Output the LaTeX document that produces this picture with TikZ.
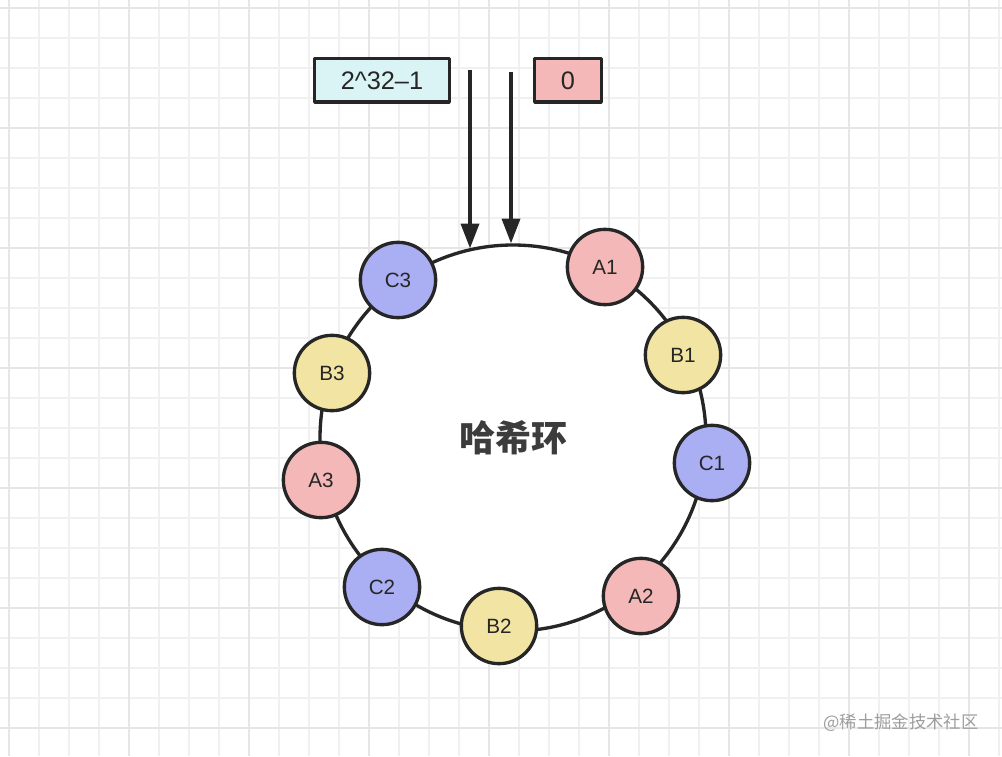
\documentclass[tikz,border=0pt]{standalone}
\usepackage{fontspec}
\setmainfont{Liberation Sans}
\newfontfamily\cjkfont{Noto Sans CJK SC}
\usetikzlibrary{arrows.meta}

\definecolor{luoi}{HTML}{F0F0F0}
\definecolor{luoidam}{HTML}{E6E6E6}
\definecolor{vien}{HTML}{262626}
\definecolor{hongnhat}{HTML}{F4B8B8}
\definecolor{vangnhat}{HTML}{F2E4A2}
\definecolor{timnhat}{HTML}{AAAEF2}
\definecolor{xanhnhat}{HTML}{DAF4F5}
\definecolor{chumo}{HTML}{9E9E9E}

\tikzset{
  nut/.style={circle, draw=vien, line width=2.5pt, minimum size=56.5pt, inner sep=0pt,
    text=vien, font=\fontsize{15.5}{18}\selectfont},
  hop/.style={rectangle, draw=vien, line width=2.6pt, minimum height=32.6pt, inner sep=0pt,
    text=vien, font=\fontsize{19}{22}\selectfont},
  muiten/.style={draw=vien, line width=2.6pt, -{Triangle[length=18.5pt, width=13.5pt]}}
}

\begin{document}
\begin{tikzpicture}[x=0.75pt, y=-0.75pt, line join=round]
  \useasboundingbox (0,0) rectangle (1002,756);
  \fill[white] (0,0) rectangle (1002,756);

  % --- Lưới nền ---
  \foreach \gx in {9,39,...,999} \draw[luoi, line width=1.2pt] (\gx,0) -- (\gx,756);
  \foreach \gy in {8,38,...,754} \draw[luoi, line width=1.2pt] (0,\gy) -- (1002,\gy);
  \foreach \gx in {9,129,...,999} \draw[luoidam, line width=1.3pt] (\gx,0) -- (\gx,756);
  \foreach \gy in {8,128,...,754} \draw[luoidam, line width=1.3pt] (0,\gy) -- (1002,\gy);

  % --- Vòng băm ---
  \node[circle, draw=vien, fill=white, line width=2.5pt, minimum size=289.5pt, inner sep=0pt,
    text=vien!90!white, font=\cjkfont\bfseries\fontsize{27}{30}\selectfont] (ring) at (513,438) {哈希环};

  % --- Các nút trên vòng ---
  \node[nut, fill=hongnhat] (A1) at (605,267) {A1};
  \node[nut, fill=vangnhat] (B1) at (683,355) {B1};
  \node[nut, fill=timnhat] (C1) at (712,463) {C1};
  \node[nut, fill=hongnhat] (A2) at (641,596) {A2};
  \node[nut, fill=vangnhat] (B2) at (499,626) {B2};
  \node[nut, fill=timnhat] (C2) at (382,587) {C2};
  \node[nut, fill=hongnhat] (A3) at (321,480) {A3};
  \node[nut, fill=vangnhat] (B3) at (332,373) {B3};
  \node[nut, fill=timnhat] (C3) at (398,280) {C3};

  % --- Hai hộp giá trị ---
  \node[hop, fill=xanhnhat, minimum width=101pt] (maxval) at (382,80.5) {2\textasciicircum32–1};
  \node[hop, fill=hongnhat, minimum width=50pt] (zeroval) at (568,80.5) {0};

  % --- Mũi tên ---
  \coordinate (dau1) at (470,70);
  \coordinate (dau2) at (511,72);
  \draw[muiten] (dau1) -- (dau1 |- ring.103);
  \draw[muiten] (dau2) -- (dau2 |- ring.90.6);

  % --- Chữ mờ ---
  \node[text=chumo, font=\cjkfont\fontsize{13}{15}\selectfont] (nguon) at (901,723) {@稀土掘金技术社区};
\end{tikzpicture}
\end{document}
